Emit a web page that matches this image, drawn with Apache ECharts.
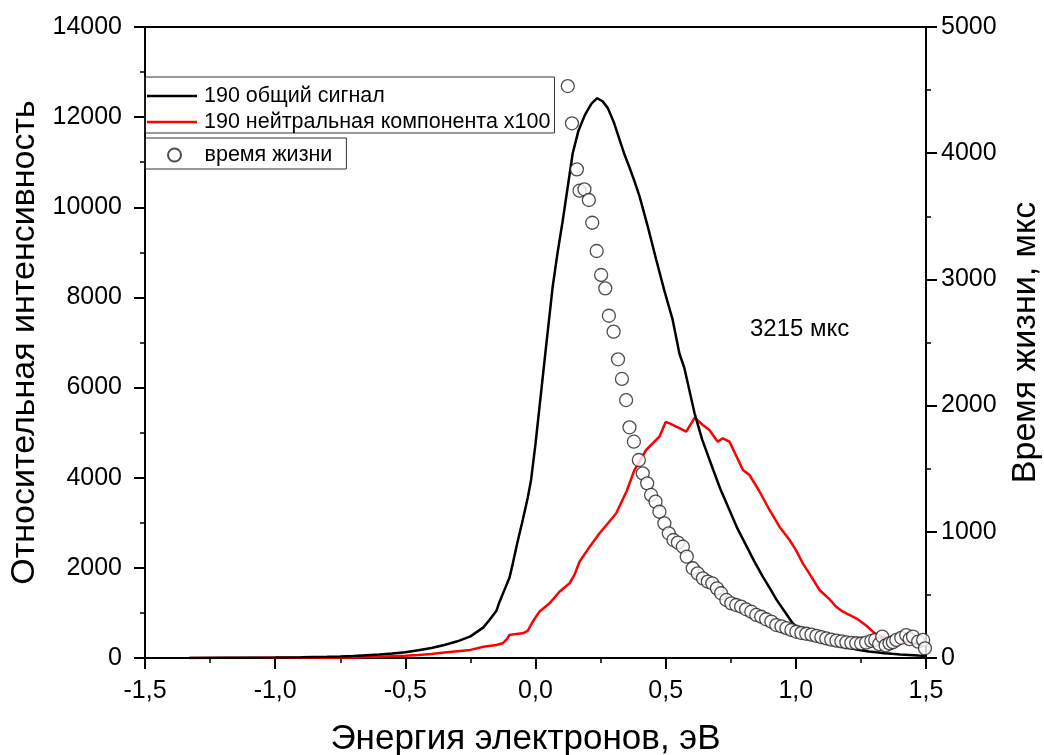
<!DOCTYPE html>
<html>
<head>
<meta charset="utf-8">
<script src="https://cdn.jsdelivr.net/npm/echarts@6/dist/echarts.min.js"></script>
<style>
  html, body { margin: 0; padding: 0; background: #fff; }
  #chart { width: 1044px; height: 755px; }
</style>
</head>
<body>
<div id="chart"></div>
<script>
// Total signal (left axis): electron energy, eV -> relative intensity
const totalEnergy = [-1.33, -1.2, -1.1, -1.0, -0.9, -0.8, -0.75, -0.7, -0.65, -0.6, -0.55, -0.5, -0.45, -0.4, -0.35, -0.3, -0.25, -0.2, -0.177, -0.15, -0.138, -0.12, -0.1, -0.087, -0.07, -0.049, -0.03, -0.017, 0.0, 0.035, 0.066, 0.085, 0.105, 0.125, 0.143, 0.165, 0.19, 0.215, 0.237, 0.258, 0.278, 0.3, 0.32, 0.34, 0.36, 0.38, 0.40, 0.43, 0.464, 0.495, 0.527, 0.553, 0.572, 0.611, 0.64, 0.681, 0.71, 0.745, 0.775, 0.809, 0.84, 0.873, 0.9, 0.925, 0.955, 0.988, 1.02, 1.053, 1.09, 1.12, 1.15, 1.181, 1.22, 1.25, 1.28, 1.309, 1.34, 1.37, 1.4, 1.437, 1.47, 1.5];
const totalSignal = [0, 5, 8, 12, 18, 28, 35, 45, 60, 75, 100, 130, 170, 220, 290, 370, 480, 680, 843, 1050, 1250, 1500, 1780, 2100, 2550, 3062, 3550, 3950, 4750, 6612, 8238, 9000, 9718, 10500, 11198, 11700, 12050, 12300, 12420, 12350, 12200, 11900, 11550, 11200, 10900, 10580, 10235, 9600, 8831, 8150, 7500, 6750, 6430, 5429, 4850, 4200, 3750, 3284, 2880, 2500, 2150, 1804, 1550, 1300, 1050, 770, 600, 473, 400, 340, 290, 251, 205, 170, 145, 126, 108, 92, 80, 67, 55, 45];

// Neutral component x100 (left axis)
const neutralEnergy = [-1.33, -1.2, -1.0, -0.8, -0.7, -0.6, -0.5, -0.45, -0.4, -0.35, -0.3, -0.25, -0.2, -0.15, -0.126, -0.11, -0.1, -0.074, -0.049, -0.03, -0.015, 0.0, 0.015, 0.054, 0.092, 0.131, 0.15, 0.169, 0.2, 0.246, 0.28, 0.31, 0.35, 0.38, 0.425, 0.476, 0.5, 0.515, 0.553, 0.579, 0.611, 0.643, 0.668, 0.70, 0.72, 0.745, 0.797, 0.822, 0.86, 0.899, 0.937, 0.976, 1.0, 1.027, 1.06, 1.091, 1.13, 1.155, 1.181, 1.232, 1.27, 1.296, 1.322, 1.36, 1.4, 1.45, 1.5];
const neutralSignal = [0, 2, 5, 8, 12, 25, 50, 67, 90, 120, 150, 180, 250, 288, 326, 420, 510, 535, 548, 600, 760, 900, 1028, 1213, 1471, 1657, 1850, 2137, 2400, 2767, 3000, 3210, 3700, 4171, 4615, 4910, 5236, 5207, 5100, 5021, 5330, 5170, 5059, 4800, 4875, 4800, 4171, 4060, 3700, 3284, 2913, 2618, 2400, 2101, 1800, 1509, 1300, 1138, 1028, 881, 720, 584, 473, 450, 380, 330, 300];

// Lifetime (right axis), microseconds
const lifeEnergy = [0.124, 0.140, 0.159, 0.169, 0.188, 0.205, 0.218, 0.235, 0.252, 0.268, 0.282, 0.300, 0.317, 0.332, 0.348, 0.361, 0.378, 0.397, 0.412, 0.429, 0.444, 0.461, 0.476, 0.495, 0.512, 0.530, 0.547, 0.566, 0.581, 0.604, 0.623, 0.643, 0.662, 0.679, 0.697, 0.713, 0.733, 0.752, 0.771, 0.790, 0.809, 0.829, 0.848, 0.867, 0.886, 0.906, 0.925, 0.945, 0.964, 0.983, 1.002, 1.021, 1.040, 1.060, 1.079, 1.098, 1.117, 1.136, 1.156, 1.175, 1.194, 1.213, 1.232, 1.251, 1.270, 1.290, 1.305, 1.320, 1.332, 1.345, 1.360, 1.373, 1.386, 1.405, 1.424, 1.437, 1.450, 1.470, 1.489, 1.496];
const lifetime = [4532, 4237, 3872, 3703, 3714, 3629, 3449, 3225, 3035, 2929, 2712, 2586, 2367, 2211, 2044, 1828, 1714, 1569, 1463, 1384, 1292, 1239, 1159, 1067, 988, 935, 914, 882, 803, 711, 671, 631, 605, 592, 552, 513, 460, 433, 420, 407, 386, 367, 341, 327, 307, 288, 261, 250, 236, 222, 208, 198, 192, 185, 175, 165, 155, 146, 138, 131, 124, 120, 117, 115, 122, 135, 143, 110, 169, 100, 116, 125, 143, 160, 182, 150, 169, 130, 143, 77];

const seriesNames = ['190 общий сигнал', '190 нейтральная компонента x100', 'время жизни'];
const annotation = '3215 мкс';

const zip = (xs, ys) => xs.map((x, i) => [x, ys[i]]);
const fmtComma = v => v.toFixed(1).replace('.', ',');
const fmtPlain = v => String(v);
const FONT = 'Liberation Sans, Arial, sans-serif';
// horizontal stroke used as the legend key for the two curves
const LINE_ICON = 'path://M0,0H50V2.5H0Z';

const axisLineStyle = { color: '#000', width: 2 };
const labelStyle = { color: '#000', fontSize: 25, fontFamily: FONT };
const titleStyle = { color: '#000', fontSize: 34, fontFamily: FONT };
const baseValueAxis = {
  type: 'value',
  axisLine: { show: true, onZero: false, lineStyle: axisLineStyle },
  axisTick: { show: true, inside: false, length: 11, lineStyle: { color: '#000', width: 2 } },
  minorTick: { show: true, splitNumber: 2, length: 5, lineStyle: { color: '#000', width: 1.5 } },
  splitLine: { show: false },
  nameTextStyle: titleStyle
};

const chart = echarts.init(document.getElementById('chart'), null, { renderer: 'canvas' });
chart.setOption({
  animation: false,
  backgroundColor: '#fff',
  grid: { left: 145, right: 118, top: 27, bottom: 97, containLabel: false, outerBoundsMode: 'none' },
  xAxis: [
    Object.assign({}, baseValueAxis, {
      min: -1.5, max: 1.5, interval: 0.5, position: 'bottom',
      axisLabel: Object.assign({}, labelStyle, { margin: 21, formatter: fmtComma }),
      name: 'Энергия электронов, эВ', nameLocation: 'middle', nameGap: 64,
      nameTextStyle: Object.assign({}, titleStyle, { fontSize: 35, padding: [0, 20, 0, 0] })
    }),
    {
      type: 'value', min: -1.5, max: 1.5, position: 'top',
      axisLine: { show: true, onZero: false, lineStyle: axisLineStyle },
      axisTick: { show: false }, axisLabel: { show: false }, splitLine: { show: false }
    }
  ],
  yAxis: [
    Object.assign({}, baseValueAxis, {
      min: 0, max: 14000, interval: 2000, position: 'left',
      axisLabel: Object.assign({}, labelStyle, { margin: 23, formatter: fmtPlain }),
      name: 'Относительная интенсивность', nameLocation: 'middle', nameGap: 99, nameRotate: 90
    }),
    Object.assign({}, baseValueAxis, {
      min: 0, max: 5000, interval: 1000, position: 'right',
      axisLabel: Object.assign({}, labelStyle, { margin: 15, formatter: fmtPlain }),
      name: 'Время жизни, мкс', nameLocation: 'middle', nameGap: 83, nameRotate: 90
    })
  ],
  legend: [
    {
      data: [
        { name: seriesNames[0], icon: LINE_ICON },
        { name: seriesNames[1], icon: LINE_ICON }
      ],
      orient: 'vertical', left: 145, top: 77,
      borderColor: '#333', borderWidth: 1, borderRadius: 0,
      padding: [8, 4, 0, 2], itemGap: 4, itemWidth: 50, itemHeight: 20,
      textStyle: { color: '#000', fontSize: 21.5, fontFamily: FONT, padding: [0, 0, 0, 2] }
    },
    {
      data: [{ name: seriesNames[2], icon: 'circle' }],
      orient: 'vertical', left: 145, top: 138,
      borderColor: '#333', borderWidth: 1, borderRadius: 0,
      padding: [6, 14, 3, 22], itemWidth: 46, itemHeight: 13,
      textStyle: { color: '#000', fontSize: 21.5, fontFamily: FONT, padding: [0, 0, 0, 2] }
    }
  ],
  series: [
    {
      name: seriesNames[0], type: 'line', xAxisIndex: 0, yAxisIndex: 0,
      data: zip(totalEnergy, totalSignal), symbol: 'none', smooth: false,
      lineStyle: { color: '#000', width: 2.5 }, itemStyle: { color: '#000' }, z: 3
    },
    {
      name: seriesNames[1], type: 'line', xAxisIndex: 0, yAxisIndex: 0,
      data: zip(neutralEnergy, neutralSignal), symbol: 'none', smooth: false,
      lineStyle: { color: '#ff0000', width: 2.5 }, itemStyle: { color: '#ff0000' }, z: 2
    },
    {
      name: seriesNames[2], type: 'scatter', xAxisIndex: 0, yAxisIndex: 1,
      data: zip(lifeEnergy, lifetime), symbol: 'circle', symbolSize: 13,
      itemStyle: { color: '#fff', borderColor: '#222', borderWidth: 1.3 }, z: 4
    }
  ],
  graphic: [
    {
      type: 'text', left: 750, top: 317,
      style: { text: annotation, fontSize: 24, fontFamily: FONT, fill: '#000' }
    }
  ]
});
</script>
</body>
</html>
